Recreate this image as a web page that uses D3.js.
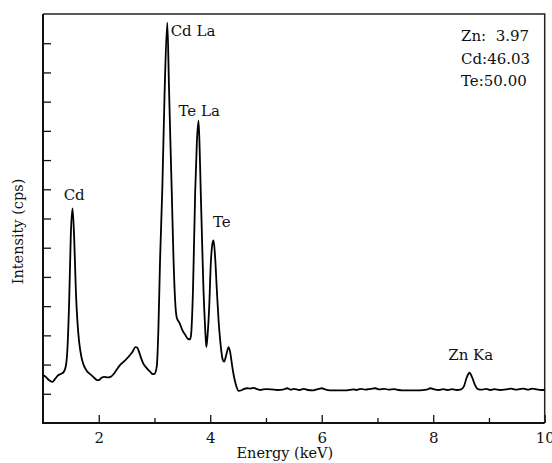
<!DOCTYPE html>
<html>
<head>
<meta charset="utf-8">
<script src="https://cdn.jsdelivr.net/npm/d3@7"></script>
<style>
  body { margin: 0; background: #fff; }
  text { font-family: "DejaVu Serif", "Liberation Serif", serif; fill: #111; }
</style>
</head>
<body>
<script>
// EDS spectrum (intensity in tick units)
var energy = [1.00, 1.05, 1.10, 1.17, 1.22, 1.27, 1.32, 1.37, 1.41, 1.44, 1.47, 1.50, 1.53, 1.56, 1.59, 1.62, 1.65, 1.69, 1.73, 1.78,
	1.84, 1.90, 1.96, 2.00, 2.05, 2.10, 2.16, 2.21, 2.26, 2.32, 2.38, 2.45, 2.53, 2.60, 2.66, 2.69, 2.72, 2.76, 2.80, 2.86,
	2.92, 2.97, 3.00, 3.04, 3.07, 3.10, 3.14, 3.18, 3.23, 3.26, 3.29, 3.31, 3.34, 3.37, 3.40, 3.45, 3.50, 3.55, 3.60, 3.64,
	3.66, 3.69, 3.73, 3.76, 3.79, 3.81, 3.83, 3.86, 3.88, 3.91, 3.93, 3.95, 3.98, 4.01, 4.04, 4.06, 4.09, 4.12, 4.15, 4.18,
	4.22, 4.25, 4.29, 4.33, 4.36, 4.39, 4.43, 4.47, 4.51, 4.56, 4.61, 4.66, 4.72, 4.78, 4.84, 4.90, 4.95, 5.00, 5.10, 5.20,
	5.30, 5.38, 5.45, 5.50, 5.60, 5.68, 5.75, 5.85, 5.95, 6.00, 6.06, 6.15, 6.30, 6.45, 6.57, 6.62, 6.70, 6.78, 6.88, 6.96,
	7.04, 7.12, 7.20, 7.30, 7.38, 7.45, 7.60, 7.75, 7.88, 7.95, 8.02, 8.10, 8.18, 8.26, 8.34, 8.42, 8.50, 8.55, 8.60, 8.65,
	8.70, 8.75, 8.80, 8.88, 8.95, 9.02, 9.10, 9.20, 9.30, 9.40, 9.48, 9.55, 9.62, 9.70, 9.78, 9.86, 9.93, 10.00];
var intensity = [1.64, 1.58, 1.48, 1.41, 1.52, 1.63, 1.68, 1.74, 1.95, 2.60, 4.20, 6.50, 7.35, 6.30, 4.50, 3.40, 2.75, 2.25, 1.98, 1.80,
	1.68, 1.58, 1.48, 1.47, 1.55, 1.58, 1.56, 1.58, 1.66, 1.82, 1.98, 2.10, 2.26, 2.42, 2.60, 2.58, 2.45, 2.22, 2.03, 1.88,
	1.76, 1.67, 1.68, 1.92, 3.20, 5.60, 8.00, 11.20, 13.70, 11.50, 9.30, 7.90, 5.70, 4.20, 3.60, 3.42, 3.18, 3.02, 2.88, 2.86,
	3.10, 4.50, 7.90, 9.60, 10.35, 9.40, 7.90, 5.80, 4.50, 3.20, 2.60, 2.95, 3.90, 5.45, 6.15, 6.25, 5.60, 4.50, 3.50, 2.80,
	2.20, 2.10, 2.35, 2.60, 2.40, 2.00, 1.55, 1.25, 1.10, 1.12, 1.17, 1.19, 1.18, 1.20, 1.16, 1.13, 1.15, 1.16, 1.15, 1.13,
	1.14, 1.19, 1.14, 1.17, 1.13, 1.17, 1.13, 1.12, 1.17, 1.19, 1.15, 1.12, 1.12, 1.12, 1.15, 1.13, 1.17, 1.14, 1.17, 1.19,
	1.15, 1.17, 1.14, 1.16, 1.13, 1.12, 1.12, 1.12, 1.14, 1.19, 1.15, 1.13, 1.16, 1.13, 1.16, 1.13, 1.15, 1.25, 1.55, 1.72,
	1.55, 1.30, 1.16, 1.14, 1.17, 1.13, 1.16, 1.13, 1.15, 1.18, 1.14, 1.16, 1.18, 1.14, 1.18, 1.15, 1.13, 1.13];

// peak labels, anchored at energy / intensity
var peakNames = ['Cd', 'Cd La', 'Te La', 'Te', 'Zn Ka'];
var peakEnergy = [1.37, 3.29, 3.43, 4.05, 8.27];
var peakLevel = [7.63, 13.24, 10.51, 6.71, 2.14];

var composition = ['Zn:  3.97', 'Cd:46.03', 'Te:50.00'];

var xMajor = [2, 4, 6, 8, 10];
var xMinor = [3, 5, 7, 9];
var yTicks = d3.range(1, 14);

var width = 552, height = 463;
var margin = {top: 14, right: 7.3, bottom: 40, left: 43};

var svg = d3.select('body').append('svg')
	.attr('width', width).attr('height', height);

var x = d3.scaleLinear().domain([1, 10]).range([margin.left, width - margin.right]);
var y = d3.scaleLinear().domain([0, 14]).range([height - margin.bottom, margin.top]);

// minor ticks along bottom
svg.append('g')
	.attr('transform', 'translate(0,' + (height - margin.bottom) + ')')
	.call(d3.axisBottom(x).tickValues(xMinor).tickSize(-5).tickFormat(''))
	.call(function (g) { g.select('.domain').remove(); });

// major ticks + labels
svg.append('g')
	.attr('class', 'xaxis')
	.attr('transform', 'translate(0,' + (height - margin.bottom) + ')')
	.call(d3.axisBottom(x).tickValues(xMajor).tickSize(-8).tickPadding(9.5).tickFormat(d3.format('d')))
	.call(function (g) { g.select('.domain').remove(); });

svg.append('g')
	.attr('transform', 'translate(' + margin.left + ',0)')
	.call(d3.axisLeft(y).tickValues(yTicks).tickSize(-8).tickFormat(''))
	.call(function (g) { g.select('.domain').remove(); });

svg.selectAll('.tick line').attr('stroke', '#111').attr('stroke-width', 1.3);
svg.selectAll('.xaxis text')
	.attr('font-family', '"DejaVu Serif", serif')
	.attr('font-size', 15)
	.attr('fill', '#111');

// frame
var x0 = x.range()[0], x1 = x.range()[1], y0 = y.range()[0], y1 = y.range()[1];
svg.append('path')
	.attr('fill', 'none').attr('stroke', '#222').attr('stroke-width', 1.5)
	.attr('d', 'M' + x0 + ',' + y1 + 'H' + x1 + 'V' + y0);
svg.append('path')
	.attr('fill', 'none').attr('stroke', '#111').attr('stroke-width', 2)
	.attr('d', 'M' + x0 + ',' + y1 + 'V' + y0 + 'H' + x1);

// spectrum
var line = d3.line()
	.x(function (d, i) { return x(energy[i]); })
	.y(function (d) { return y(d); })
	.curve(d3.curveMonotoneX);

svg.append('path')
	.datum(intensity)
	.attr('fill', 'none')
	.attr('stroke', '#000')
	.attr('stroke-width', 1.8)
	.attr('stroke-linejoin', 'round')
	.attr('d', line);

svg.selectAll('.peak')
	.data(peakNames).enter().append('text')
	.attr('class', 'peak')
	.attr('x', function (d, i) { return x(peakEnergy[i]); })
	.attr('y', function (d, i) { return y(peakLevel[i]); })
	.attr('font-size', 15)
	.text(function (d) { return d; });

svg.selectAll('.comp')
	.data(composition).enter().append('text')
	.attr('class', 'comp')
	.attr('x', 461)
	.attr('y', function (d, i) { return 41 + i * 22.6; })
	.attr('font-size', 15)
	.style('white-space', 'pre')
	.text(function (d) { return d; });

svg.append('text')
	.attr('x', (x0 + x1) / 2 - 9)
	.attr('y', 458)
	.attr('text-anchor', 'middle')
	.attr('font-size', 14.5)
	.text('Energy (keV)');

svg.append('text')
	.attr('transform', 'translate(22.5,231.5) rotate(-90)')
	.attr('text-anchor', 'middle')
	.attr('font-size', 14.5)
	.text('Intensity (cps)');
</script>
</body>
</html>
